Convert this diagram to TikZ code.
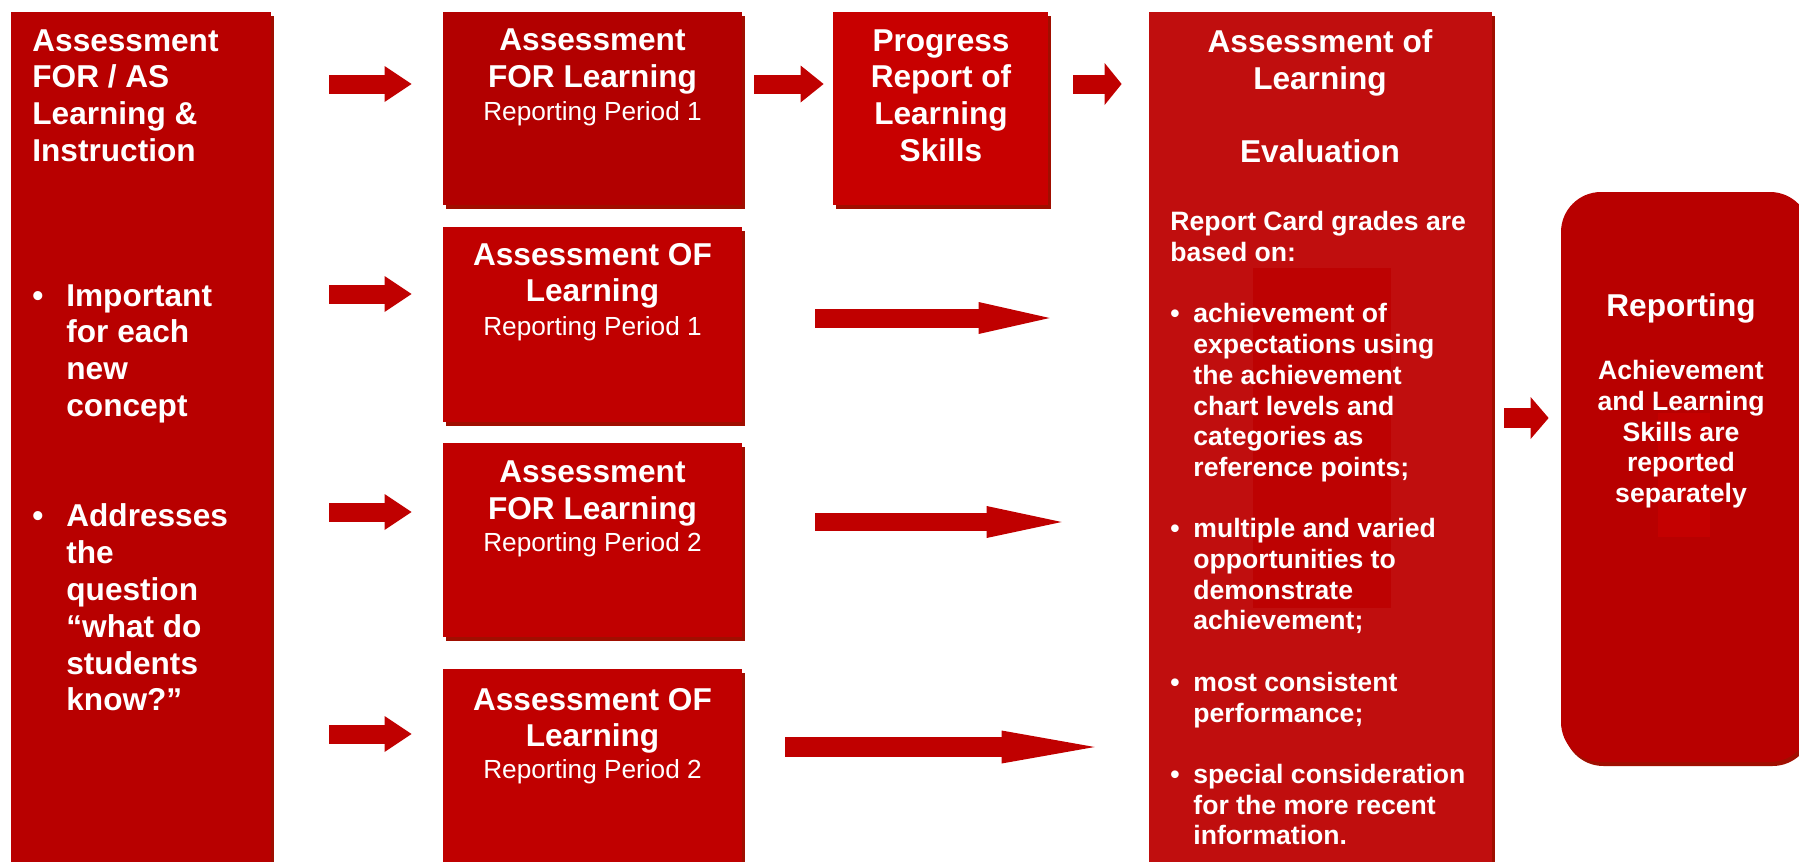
\documentclass[tikz,border=0pt]{standalone}
\usepackage{fontspec}
\setmainfont{Liberation Sans}
\usetikzlibrary{calc,positioning,arrows.meta}
\definecolor{lftred}{RGB}{184,0,0}
\definecolor{forred}{RGB}{178,0,0}
\definecolor{ofred}{RGB}{192,0,0}
\definecolor{progred}{RGB}{200,0,0}
\definecolor{aolred}{RGB}{192,14,14}
\definecolor{aolinner}{RGB}{189,2,2}
\definecolor{repinner}{RGB}{196,0,0}
\definecolor{shadowred}{RGB}{160,14,0}
\definecolor{arrowred}{RGB}{192,0,0}
\newcommand{\headfont}{\fontsize{15.8}{18.4}\selectfont\bfseries}
\newcommand{\bodyfont}{\fontsize{13.3}{15.35}\selectfont\bfseries}
\newcommand{\periodfont}{\fontsize{13.1}{15}\selectfont}
\tikzset{
	redbox/.style={fill=#1, inner sep=0pt, preaction={fill=shadowred, transform canvas={xshift=1.25pt, yshift=-2pt}}},
	headtext/.style={text=white, inner sep=0pt, font=\headfont, align=center, anchor=north},
	bodytext/.style={text=white, inner sep=0pt, font=\bodyfont, anchor=north west},
	periodtext/.style={text=white, inner sep=0pt, font=\periodfont, anchor=north},
	bigarrow/.style n args={3}{arrowred, line width=#1, -{Triangle[length=#2, width=#3, line width=0pt]}}
}

\begin{document}
\begin{tikzpicture}[x=0.5pt, y=-0.5pt]
	%%%%% START %%%%%
	
	\useasboundingbox (0,0) rectangle (1799,862);
	
	\node[redbox=lftred, minimum width=130pt, minimum height=425pt] (lft) at (141,437) {};
	\node[redbox=forred, minimum width=149.5pt, minimum height=96.5pt] (fr1) at (592.5,108.5) {};
	\node[redbox=ofred, minimum width=149.5pt, minimum height=97.5pt] (of1) at (592.5,324.5) {};
	\node[redbox=ofred, minimum width=149.5pt, minimum height=97pt] (fr2) at (592.5,540) {};
	\node[redbox=ofred, minimum width=149.5pt, minimum height=96.5pt] (of2) at (592.5,765.5) {};
	\node[redbox=progred, minimum width=107.5pt, minimum height=96.5pt] (prog) at (940.5,108.5) {};
	\node[redbox=aolred, minimum width=171.5pt, minimum height=425pt] (aol) at (1320.5,437) {};
	\node[redbox=lftred, rounded corners=20pt, minimum width=124.5pt, minimum height=285pt] (rep) at (1685.5,477) {};
	
	\fill[aolinner] (1253,268) rectangle (1391,608);
	\fill[repinner] (1658,413) rectangle (1710,537);
	
	\coordinate (row1) at (0,84);
	\coordinate (row2) at (0,294);
	\coordinate (row3) at (0,512);
	\coordinate (row4) at (0,734);
	\coordinate (mid1) at (0,318);
	\coordinate (mid2) at (0,522);
	\coordinate (mid3) at (0,747);
	\coordinate (reprow) at (0,418);
	
	\draw[bigarrow={9.5pt}{13.5pt}{18pt}, shorten <=29pt, shorten >=15.5pt] (lft.east |- row1) -- (fr1.west |- row1);
	\draw[bigarrow={9.5pt}{13.5pt}{18pt}, shorten <=29pt, shorten >=15.5pt] (lft.east |- row2) -- (of1.west |- row2);
	\draw[bigarrow={9.5pt}{13.5pt}{18pt}, shorten <=29pt, shorten >=15.5pt] (lft.east |- row3) -- (fr2.west |- row3);
	\draw[bigarrow={9.5pt}{13.5pt}{18pt}, shorten <=29pt, shorten >=15.5pt] (lft.east |- row4) -- (of2.west |- row4);
	
	\draw[bigarrow={9.5pt}{11.5pt}{18.5pt}, shorten <=6pt, shorten >=4.5pt] (fr1.east |- row1) -- (prog.west |- row1);
	\draw[bigarrow={9.5pt}{8.5pt}{21pt}, shorten <=12.5pt, shorten >=13.5pt] (prog.east |- row1) -- (aol.west |- row1);
	
	\draw[bigarrow={9.5pt}{35.5pt}{16pt}, shorten <=36.5pt, shorten >=49.5pt] (of1.east |- mid1) -- (aol.west |- mid1);
	\draw[bigarrow={9pt}{37.5pt}{16pt}, shorten <=36.5pt, shorten >=43.5pt] (fr2.east |- mid2) -- (aol.west |- mid2);
	\draw[bigarrow={10pt}{46.5pt}{16.5pt}, shorten <=21.5pt, shorten >=27pt] (of2.east |- mid3) -- (aol.west |- mid3);
	
	\draw[bigarrow={10pt}{9pt}{21pt}, shorten <=6pt, shorten >=6pt] (aol.east |- reprow) -- (rep.west |- reprow);
	
	\node[headtext, anchor=north west, align=left] (lfttitle) at (32,29) {Assessment\\FOR / AS\\Learning \&\\Instruction};
	\node[headtext, anchor=north west] (lftlist) at (32,280) {\begin{tabular}{@{}p{17pt}@{}l@{}}
		\textbullet & Important\\ & for each\\ & new\\ & concept\\ & \\ & \\
		\textbullet & Addresses\\ & the\\ & question\\ & “what do\\ & students\\ & know?”
	\end{tabular}};
	
	\node[headtext, below=8.5pt of fr1.north] (fr1title) {Assessment\\FOR Learning};
	\node[periodtext, below=45pt of fr1.north] (fr1period) {Reporting Period 1};
	\node[headtext, below=8pt of of1.north] (of1title) {Assessment OF\\Learning};
	\node[periodtext, below=45pt of of1.north] (of1period) {Reporting Period 1};
	\node[headtext, below=9pt of fr2.north] (fr2title) {Assessment\\FOR Learning};
	\node[periodtext, below=45pt of fr2.north] (fr2period) {Reporting Period 2};
	\node[headtext, below=9.5pt of of2.north] (of2title) {Assessment OF\\Learning};
	\node[periodtext, below=45.5pt of of2.north] (of2period) {Reporting Period 2};
	
	\node[headtext] (progtitle) at (941,29) {Progress\\Report of\\Learning\\Skills};
	
	\node[headtext] (aoltitle) at (1320,29) {Assessment of\\Learning\\[18.4pt]Evaluation};
	\node[bodytext] (aolbody) at (1170,209) {\begin{tabular}{@{}p{11.5pt}@{}l@{}}
		\multicolumn{2}{@{}l@{}}{Report Card grades are}\\
		\multicolumn{2}{@{}l@{}}{based on:}\\ & \\
		\textbullet & achievement of\\ & expectations using\\ & the achievement\\ & chart levels and\\ & categories as\\ & reference points;\\ & \\
		\textbullet & multiple and varied\\ & opportunities to\\ & demonstrate\\ & achievement;\\ & \\
		\textbullet & most consistent\\ & performance;\\ & \\
		\textbullet & special consideration\\ & for the more recent\\ & information.
	\end{tabular}};
	
	\node[headtext] (reptitle) at (1681,293) {Reporting};
	\node[headtext, font=\bodyfont] (repbody) at (1681,360) {Achievement\\and Learning\\Skills are\\reported\\separately};
	
	%%%%% END %%%%%
\end{tikzpicture}
\end{document}
